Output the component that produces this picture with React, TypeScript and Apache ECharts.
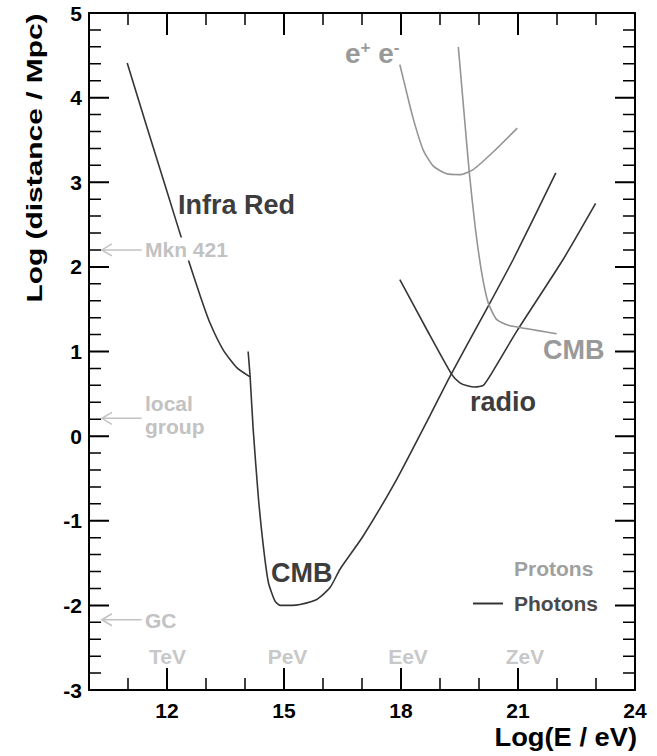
import React, { useEffect, useRef } from 'react';
import * as echarts from 'echarts';

const FONT = '"Liberation Sans", Arial, Helvetica, sans-serif';

// axis ranges and tick labels
const X_MIN = 10;
const X_MAX = 24;
const Y_MIN = -3;
const Y_MAX = 5;
const xLabelTicks = [12, 15, 18, 21, 24];
const xMinorTicks = [11, 13, 14, 16, 17, 19, 20, 22, 23];
const yMajorTicks = [-2, -1, 0, 1, 2, 3, 4];
const yMinorTicks = [-2.8, -2.6, -2.4, -2.2, -1.8, -1.6, -1.4, -1.2, -0.8, -0.6, -0.4, -0.2, 0.2, 0.4, 0.6, 0.8, 1.2, 1.4, 1.6, 1.8, 2.2, 2.4, 2.6, 2.8, 3.2, 3.4, 3.6, 3.8, 4.2, 4.4, 4.6, 4.8];

// Photons: Infra Red
const irX = [10.98, 11.5, 12.0, 12.5, 12.85, 13.1, 13.44, 13.79, 14.13];
const irY = [4.41, 3.63, 2.89, 2.15, 1.66, 1.34, 1.02, 0.81, 0.7];

// Photons: CMB
const cmbPhX = [14.08, 14.13, 14.21, 14.34, 14.47, 14.6, 14.77, 14.9, 15.2, 15.41, 15.84, 16.18, 16.44, 17.03, 17.89, 18.74, 19.26, 20.1, 20.88, 21.97];
const cmbPhY = [1.0, 0.71, 0.08, -0.71, -1.3, -1.73, -1.95, -2.0, -2.0, -1.99, -1.93, -1.79, -1.57, -1.18, -0.51, 0.24, 0.71, 1.42, 2.09, 3.11];

// Photons: radio
const radioX = [17.97, 18.66, 19.3, 19.51, 19.7, 19.9, 20.11, 20.28, 20.97, 22.16, 22.99];
const radioY = [1.85, 1.26, 0.73, 0.63, 0.595, 0.58, 0.6, 0.71, 1.24, 2.09, 2.75];

// Protons: e+ e-
const eeX = [17.97, 18.15, 18.32, 18.57, 18.83, 19.17, 19.51, 19.85, 20.37, 20.98];
const eeY = [4.39, 4.05, 3.74, 3.38, 3.19, 3.1, 3.09, 3.15, 3.36, 3.64];

// Protons: CMB
const cmbPrX = [19.47, 19.62, 19.75, 19.9, 20.07, 20.24, 20.45, 20.75, 21.48, 21.99];
const cmbPrY = [4.6, 3.8, 3.12, 2.48, 1.93, 1.57, 1.38, 1.31, 1.25, 1.21];

// reference distances marked with arrows
const refNames = ['Mkn 421', 'local group', 'GC'];
const refY = [2.2, 0.21, -2.17];
const ARROW_TIP_X = 10.33;
const ARROW_TAIL_X = 11.35;

const AXIS = '#000000';
const PHOTON = '#353535';
const PHOTON_TEXT = '#3d3d3d';
const PROTON = '#949494';
const PROTON_TEXT = '#999999';
const NOTE = '#c2c2c2';

// grid geometry (pixels) used to express tick lengths in axis units
const GRID = { left: 89, right: 22, top: 13, bottom: 66 };
const W = 657;
const H = 756;
const X_PER_PX = (X_MAX - X_MIN) / (W - GRID.left - GRID.right);
const Y_PER_PX = (Y_MAX - Y_MIN) / (H - GRID.top - GRID.bottom);

const pairs = (xs: number[], ys: number[]) => xs.map((x, i) => [x, ys[i]]);

function lineSeries(name: string, xs: number[], ys: number[], color: string) {
  return {
    type: 'line',
    name,
    data: pairs(xs, ys),
    smooth: 0.2,
    symbol: 'none',
    showSymbol: false,
    clip: false,
    lineStyle: { color, width: 1.6 },
    itemStyle: { color },
    z: 3,
  };
}

// tick marks drawn as broken polylines through the axis scales
function xTickSeries(name: string, vals: number[], lenPx: number, width: number) {
  const d = lenPx * Y_PER_PX;
  const data: any[] = [];
  vals.forEach((v) => {
    data.push([v, Y_MIN], [v, Y_MIN + d], null, [v, Y_MAX], [v, Y_MAX - d], null);
  });
  return {
    type: 'line', name, data, symbol: 'none', showSymbol: false, smooth: false, connectNulls: false,
    clip: false, silent: true, z: 8, lineStyle: { color: AXIS, width, cap: 'butt' }, itemStyle: { color: AXIS },
  };
}
function yTickSeries(name: string, vals: number[], lenPx: number, width: number) {
  const d = lenPx * X_PER_PX;
  const data: any[] = [];
  vals.forEach((v) => {
    data.push([X_MIN, v], [X_MIN + d, v], null, [X_MAX, v], [X_MAX - d, v], null);
  });
  return {
    type: 'line', name, data, symbol: 'none', showSymbol: false, smooth: false, connectNulls: false,
    clip: false, silent: true, z: 8, lineStyle: { color: AXIS, width, cap: 'butt' }, itemStyle: { color: AXIS },
  };
}

function txt(text: string, x: number, y: number, size: number, color: string, align = 'left', extra: any = {}) {
  return {
    type: 'text',
    x,
    y,
    z: 50,
    ...extra,
    style: {
      text,
      fontSize: size,
      fontWeight: 'bold',
      fontFamily: FONT,
      fill: color,
      align,
      textAlign: align,
      verticalAlign: 'middle',
      textVerticalAlign: 'middle',
      ...(extra.style || {}),
    },
  };
}

export default function App() {
  const ref = useRef<HTMLDivElement>(null);
  useEffect(() => {
    document.body.style.margin = '0';
    const chart = echarts.init(ref.current!, null, { renderer: 'svg' });
    const axisLine = { show: true, onZero: false, lineStyle: { color: AXIS, width: 2 } };
    const noTick = { show: false };

    const graphics: any[] = [
      txt('Log (distance / Mpc)', 34, 158, 22, '#000', 'center', { rotation: Math.PI / 2, scaleX: 1.36 }),
      txt('Log(E / eV)', 637, 737, 26, '#000', 'right', { scaleX: 1.05 }),
      txt('Infra Red', 178, 205, 27, PHOTON_TEXT),
      txt('CMB', 271, 573, 27, PHOTON_TEXT),
      txt('radio', 470, 402, 27, PHOTON_TEXT),
      txt('CMB', 543, 350, 27, PROTON_TEXT),
      {
        type: 'text',
        x: 345,
        y: 53,
        z: 50,
        style: {
          text: '{e|e}{s|+} {e|e}{s|-}',
          fontSize: 28,
          fontWeight: 'bold',
          fontFamily: FONT,
          fill: PROTON_TEXT,
          align: 'left',
          textAlign: 'left',
          verticalAlign: 'middle',
          textVerticalAlign: 'middle',
          rich: {
            e: { fontSize: 28, fontWeight: 'bold', fontFamily: FONT, fill: PROTON_TEXT },
            s: { fontSize: 17, fontWeight: 'bold', fontFamily: FONT, fill: PROTON_TEXT, verticalAlign: 'top' },
          },
        },
      },
      txt(refNames[0], 145, 249, 21, NOTE, 'left', { style: { backgroundColor: '#fff', padding: [1, 0, 1, 0] } }),
      txt('local', 145, 403.5, 21, NOTE),
      txt('group', 145, 426.5, 21, NOTE),
      txt(refNames[2], 145, 620, 21, NOTE),
      txt('TeV', 167.5, 656, 21, '#c8c8c8', 'center'),
      txt('PeV', 287.5, 656, 21, '#c8c8c8', 'center'),
      txt('EeV', 408, 656, 21, '#c8c8c8', 'center'),
      txt('ZeV', 525, 656, 21, '#c8c8c8', 'center'),
    ];

    const option: any = {
      animation: false,
      backgroundColor: '#fff',
      grid: { ...GRID },
      legend: {
        orient: 'vertical',
        left: 473,
        top: 558,
        padding: 0,
        itemWidth: 30,
        itemHeight: 2,
        itemGap: 14,
        icon: 'rect',
        selectedMode: false,
        data: [
          { name: 'Protons', itemStyle: { color: 'rgba(0,0,0,0)' }, textStyle: { color: '#a0a0a0' } },
          { name: 'Photons', textStyle: { color: '#4a4a4a' } },
        ],
        textStyle: { fontSize: 21, fontWeight: 'bold', fontFamily: FONT, lineHeight: 21, padding: [0, 0, 0, 6] },
      },
      xAxis: [
        {
          type: 'value',
          position: 'bottom',
          min: X_MIN,
          max: X_MAX,
          interval: 1,
          axisLine,
          axisTick: noTick,
          axisLabel: {
            formatter: (v: number) => (xLabelTicks.indexOf(v) >= 0 ? String(v) : ''),
            fontSize: 21,
            fontWeight: 'bold',
            fontFamily: FONT,
            color: '#000',
            margin: 10,
            showMinLabel: true,
            showMaxLabel: true,
          },
          splitLine: { show: false },
        },
        {
          type: 'value',
          position: 'top',
          min: X_MIN,
          max: X_MAX,
          interval: 1,
          axisLine,
          axisTick: noTick,
          axisLabel: { show: false },
          splitLine: { show: false },
        },
      ],
      yAxis: [
        {
          type: 'value',
          position: 'left',
          min: Y_MIN,
          max: Y_MAX,
          interval: 1,
          axisLine,
          axisTick: noTick,
          axisLabel: { fontSize: 21, fontWeight: 'bold', fontFamily: FONT, color: '#000', margin: 7, showMinLabel: true, showMaxLabel: true },
          splitLine: { show: false },
        },
        {
          type: 'value',
          position: 'right',
          min: Y_MIN,
          max: Y_MAX,
          interval: 1,
          axisLine,
          axisTick: noTick,
          axisLabel: { show: false },
          splitLine: { show: false },
        },
      ],
      graphic: graphics,
      series: [
        lineSeries('Photons', irX, irY, PHOTON),
        lineSeries('Photons', cmbPhX, cmbPhY, PHOTON),
        lineSeries('Photons', radioX, radioY, PHOTON),
        lineSeries('Protons', eeX, eeY, PROTON),
        lineSeries('Protons', cmbPrX, cmbPrY, PROTON),
        xTickSeries('xMajorTicks', xLabelTicks, 22, 2),
        xTickSeries('xMinorTicks', xMinorTicks, 12, 1.5),
        yTickSeries('yMajorTicks', yMajorTicks, 20, 2),
        yTickSeries('yMinorTicks', yMinorTicks, 12, 1.5),
        {
          type: 'custom',
          name: 'refArrows',
          silent: true,
          clip: false,
          z: 6,
          data: refY.map((y) => [ARROW_TIP_X, y]),
          renderItem: (_p: any, api: any) => {
            const yv = api.value(1);
            const tip = api.coord([ARROW_TIP_X, yv]);
            const tail = api.coord([ARROW_TAIL_X, yv]);
            return {
              type: 'group',
              children: [
                { type: 'line', shape: { x1: tip[0], y1: tip[1], x2: tail[0], y2: tail[1] }, style: { stroke: NOTE, lineWidth: 1.5 } },
                {
                  type: 'polyline',
                  shape: { points: [[tip[0] + 10, tip[1] - 6], [tip[0], tip[1]], [tip[0] + 10, tip[1] + 6]] },
                  style: { stroke: NOTE, lineWidth: 1.5, fill: null },
                },
              ],
            };
          },
        },
      ],
    };
    chart.setOption(option);
    return () => chart.dispose();
  }, []);
  return <div ref={ref} style={{ width: W, height: H }} />;
}
